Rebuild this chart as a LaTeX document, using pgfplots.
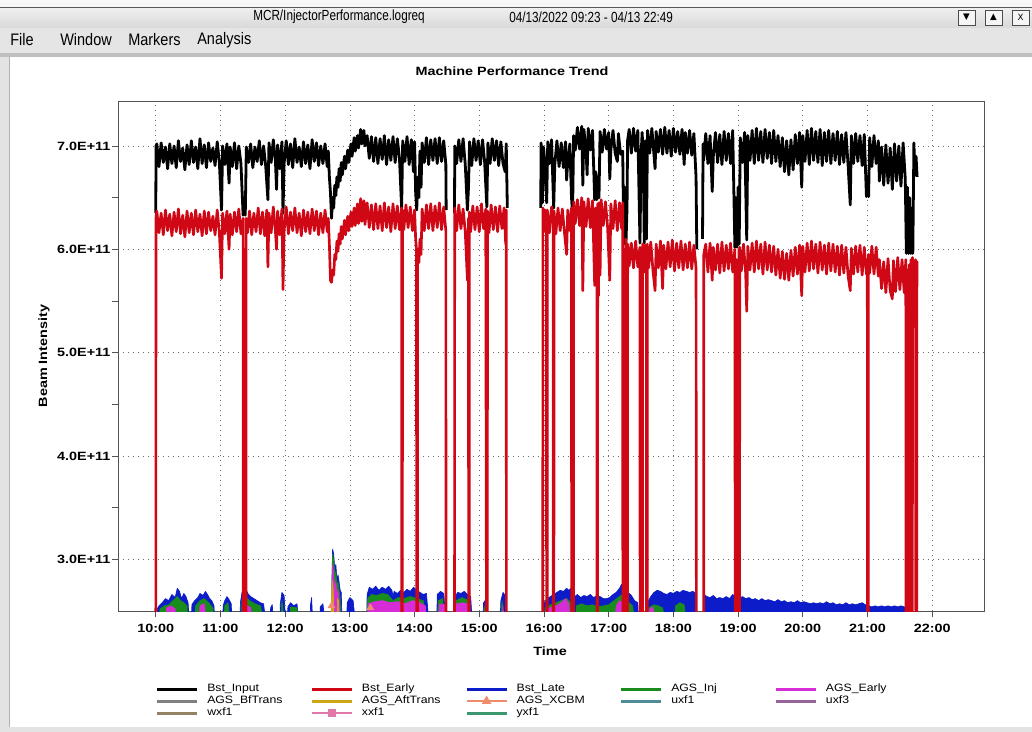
\documentclass[border=0pt]{standalone}
\usepackage{fontspec}
\setmainfont{Liberation Sans}
\newfontfamily\tickfont[FakeStretch=1.2]{Liberation Sans}
\newfontfamily\legfont[FakeStretch=1.15]{Liberation Sans}
\newfontfamily\condfont[FakeStretch=0.8]{Liberation Sans}
\newfontfamily\menufont[FakeStretch=0.87]{Liberation Sans}
\newfontfamily\symfont{DejaVu Sans}
\usepackage{pgfplots}
\pgfplotsset{compat=1.18}
\definecolor{cRed}{RGB}{208,8,22}
\definecolor{cBlue}{RGB}{12,28,200}
\definecolor{cGreen}{RGB}{25,140,30}
\definecolor{cMag}{RGB}{215,45,215}
\definecolor{cGold}{RGB}{205,165,25}
\definecolor{cSalmon}{RGB}{240,140,110}
\definecolor{cGray}{RGB}{128,128,128}
\definecolor{cTeal}{RGB}{80,140,150}
\definecolor{cPurp}{RGB}{150,100,150}
\definecolor{cTan}{RGB}{150,130,100}
\definecolor{cPink}{RGB}{225,120,170}
\definecolor{cSea}{RGB}{60,150,110}
\pgfplotsset{legend image code/.code={\draw[mark repeat=2,mark phase=2,#1] plot coordinates {(0pt,0pt) (15pt,0pt) (30pt,0pt)};}}
\begin{document}
\begin{tikzpicture}
\path[use as bounding box] (0,0) rectangle (774pt,-549pt);
\begin{scope}[x=0.75pt,y=-0.75pt]
\fill[gray!22] (0,0) rectangle (1032,732);
\fill[gray!6] (0,0) rectangle (1032,7);
\shade[top color=gray!12, bottom color=gray!30] (0,7) rectangle (1032,28);
\draw[gray!70!black, line width=0.6pt] (0,7.5) -- (1032,7.5);
\fill[gray!20] (0,28) rectangle (1032,53);
\fill[gray!50] (0,53) rectangle (1032,57);
\fill[white] (9,57) rectangle (1032,727);
\draw[gray!60] (9,57) -- (9,727);
\node[anchor=west, inner sep=0pt] at (253,17) {\condfont\fontsize{11}{13}\selectfont MCR/InjectorPerformance.logreq};
\node[anchor=west, inner sep=0pt] at (509,17) {\condfont\fontsize{11}{13}\selectfont 04/13/2022 09:23 - 04/13 22:49};
\foreach \bx/\g in {958/\char"25BC,985/\char"25B2,1012/X}{
  \draw[gray!60!black, fill=gray!8, line width=0.5pt] (\bx,10) rectangle (\bx+17,25);
  \node[inner sep=0pt] at (\bx+8.5,17.5) {\symfont\fontsize{6.5}{7}\selectfont \g};
}
\node[anchor=west, inner sep=0pt] at (10,40) {\menufont\fontsize{12.5}{14}\selectfont File};
\node[anchor=west, inner sep=0pt] at (60,40) {\menufont\fontsize{12.5}{14}\selectfont Window};
\node[anchor=west, inner sep=0pt] at (128,40) {\menufont\fontsize{12.5}{14}\selectfont Markers};
\node[anchor=west, inner sep=0pt] at (197,40) {\menufont\fontsize{12.5}{14}\selectfont Analysis};
\node[inner sep=0pt] at (512,71) {\tickfont\bfseries\fontsize{9}{11}\selectfont Machine Performance Trend};
\end{scope}
\begin{axis}[
 at={(88.5pt,-458.25pt)}, anchor=south west,
 width=649.5pt, height=382.5pt, scale only axis,
 xmin=-35, xmax=768, ymin=2.5, ymax=7.435,
 xtick={0,60,...,720},
 xticklabels={10:00,11:00,12:00,13:00,14:00,15:00,16:00,17:00,18:00,19:00,20:00,21:00,22:00},
 ytick={3,4,5,6,7},
 yticklabels={3.0E+11,4.0E+11,5.0E+11,6.0E+11,7.0E+11},
 minor ytick={3.5,4.5,5.5,6.5},
 tick align=outside, tick pos=left,
 major tick length=4.5pt, minor tick length=4.5pt,
 xmajorgrids, ymajorgrids,
 grid style={gray!85!black, dash pattern=on 0.75pt off 3pt, line width=0.5pt},
 axis line style={gray!65!black, line width=0.6pt},
 tick style={gray!65!black, line width=0.6pt},
 ticklabel style={font=\tickfont\bfseries\fontsize{9}{11}\selectfont, inner sep=1pt},
 xticklabel style={yshift=-4pt},
 xlabel={Time}, ylabel={Beam Intensity},
 label style={font=\tickfont\bfseries\fontsize{9}{11}\selectfont},
 xlabel style={at={(axis description cs:0.499,-0.078)}, anchor=center},
 ylabel style={at={(axis description cs:-0.0855,0.5)}, anchor=center},
 unbounded coords=jump,
 legend columns=5,
 legend cell align=left,
 legend style={at={(0.0435,-0.141)}, anchor=north west, draw=none, fill=none, inner sep=0pt,
   font=\legfont\fontsize{8}{9.5}\selectfont,
   nodes={inner sep=0pt, text height=6.5pt, text depth=2.5pt},
   /tikz/every odd column/.append style={column sep=6.5pt}},
]
\addlegendimage{black, line width=2pt}\addlegendentry{\makebox[77.5pt][l]{Bst\_Input}}
\addlegendimage{cRed, line width=2pt}\addlegendentry{\makebox[77.5pt][l]{Bst\_Early}}
\addlegendimage{cBlue, line width=2pt}\addlegendentry{\makebox[77.5pt][l]{Bst\_Late}}
\addlegendimage{cGreen, line width=2pt}\addlegendentry{\makebox[77.5pt][l]{AGS\_Inj}}
\addlegendimage{cMag, line width=2pt}\addlegendentry{\makebox[77.5pt][l]{AGS\_Early}}
\addlegendimage{cGray, line width=2pt}\addlegendentry{\makebox[77.5pt][l]{AGS\_BfTrans}}
\addlegendimage{cGold, line width=2pt}\addlegendentry{\makebox[77.5pt][l]{AGS\_AftTrans}}
\addlegendimage{cSalmon, line width=1.2pt, mark=triangle*, mark size=3pt, mark options={solid, fill=cSalmon}}\addlegendentry{\makebox[77.5pt][l]{AGS\_XCBM}}
\addlegendimage{cTeal, line width=2pt}\addlegendentry{\makebox[77.5pt][l]{uxf1}}
\addlegendimage{cPurp, line width=2pt}\addlegendentry{\makebox[77.5pt][l]{uxf3}}
\addlegendimage{cTan, line width=2pt}\addlegendentry{\makebox[77.5pt][l]{wxf1}}
\addlegendimage{cPink, line width=1.2pt, mark=square*, mark size=2.2pt, mark options={solid, fill=cPink}}\addlegendentry{\makebox[77.5pt][l]{xxf1}}
\addlegendimage{cSea, line width=2pt}\addlegendentry{\makebox[77.5pt][l]{yxf1}}

% Bst_Late (blue)
\addplot[forget plot, draw=cBlue, fill=cBlue, line width=0.5pt, line join=round] coordinates {
(0,2.3)(1,2.3)(1.5,2.52)(3,2.55)(6,2.58)(9,2.62)(12,2.60)(15,2.66)(18,2.63)(20,2.72)(22,2.69)(24,2.62)(26,2.67)(28,2.64)(30,2.58)(31.5,2.3)
(33,2.3)(33.5,2.56)(36,2.60)(39,2.63)(41,2.67)(44,2.65)(46,2.69)(48,2.66)(50,2.62)(52,2.60)(54,2.55)(55,2.3)
(62,2.3)(62.5,2.55)(64,2.60)(66,2.64)(68,2.61)(70,2.57)(71,2.3)
(78,2.3)(78.5,2.58)(80,2.68)(82,2.72)(84,2.70)(86,2.66)(88,2.64)(91,2.62)(94,2.60)(97,2.58)(100,2.57)(103,2.3)
(106,2.3)(106.5,2.53)(108,2.56)(110,2.3)
(115,2.3)(115.5,2.57)(117,2.68)(119,2.65)(121,2.3)
(122,2.3)(122.5,2.54)(125,2.58)(128,2.55)(131,2.57)(133,2.3)
(143,2.3)(143.5,2.56)(144.5,2.63)(146,2.3)
(152,2.3)(152.5,2.54)(155,2.57)(158,2.3)
(163,2.3)(163.5,2.85)(164,3.10)(165,3.05)(166,2.90)(167,2.95)(168,2.80)(169,2.85)(170,2.78)(171,2.70)(172,2.68)(173,2.3)
(177,2.3)(177.5,2.58)(180,2.63)(183,2.60)(186,2.3)
(195.5,2.3)(196,2.66)(198,2.73)(201,2.71)(204,2.74)(207,2.70)(210,2.73)(213,2.71)(216,2.74)(219,2.70)(220,2.64)(221,2.69)(224,2.67)(227,2.70)(230,2.68)(233,2.71)(236,2.69)(239,2.73)(242,2.70)(245,2.68)(248,2.66)(251,2.67)(254,2.3)
(260.5,2.3)(261,2.66)(264,2.69)(267,2.67)(270,2.3)
(277,2.3)(277.5,2.64)(280,2.68)(283,2.67)(286,2.69)(289,2.66)(292,2.64)(294,2.3)
(303,2.3)(304,2.58)(306,2.61)(308,2.3)
(319,2.3)(320,2.60)(322,2.68)(324,2.65)(325,2.3)
(359,2.3)(360,2.58)(363,2.62)(366,2.64)(369,2.66)(372,2.68)(375,2.70)(378,2.69)(381,2.72)(383,2.70)(385,2.72)(386,2.3)
(388,2.3)(388.5,2.64)(391,2.66)(394,2.63)(397,2.65)(400,2.64)(403,2.66)(406,2.63)(409,2.65)(412,2.64)(415,2.62)(418,2.62)(421,2.63)(424,2.66)(427,2.68)(430,2.72)(432,2.76)(434,2.74)(436,2.71)(438,2.68)(441,2.65)(444,2.60)(447,2.58)(448,2.3)
(455,2.3)(456,2.58)(459,2.64)(462,2.68)(465,2.70)(468,2.69)(471,2.67)(474,2.66)(477,2.68)(480,2.67)(483,2.69)(486,2.68)(489,2.70)(492,2.69)(495,2.68)(498,2.69)(501,2.67)(502,2.3)
(508,2.3)(508.5,2.66)(511,2.64)(514,2.63)(517,2.65)(520,2.62)(523,2.63)(526,2.62)(529,2.64)(532,2.62)(535,2.66)(538,2.63)(541,2.62)(544,2.64)(547,2.62)(550,2.63)(553,2.61)(556,2.62)(559,2.60)(562,2.62)(565,2.60)(568,2.61)(571,2.60)(574,2.59)(577,2.61)(580,2.59)(583,2.60)(586,2.58)(589,2.59)(592,2.58)(595,2.60)(598,2.58)(601,2.59)(604,2.58)(607,2.57)(610,2.58)(613,2.57)(616,2.58)(619,2.57)(622,2.59)(625,2.57)(628,2.58)(631,2.56)(634,2.57)(637,2.56)(640,2.58)(643,2.56)(646,2.57)(649,2.56)(652,2.57)(655,2.58)(658,2.56)(661,2.55)(664,2.54)(667,2.55)(670,2.54)(673,2.55)(676,2.54)(679,2.55)(682,2.54)(685,2.55)(688,2.54)(691,2.55)(694,2.54)(697,2.53)(697.5,2.3)
};
% AGS_Inj (green)
\addplot[forget plot, draw=cGreen, fill=cGreen, line width=0.5pt, line join=round] coordinates {
(3,2.3)(4,2.52)(8,2.55)(12,2.56)(16,2.60)(20,2.64)(23,2.60)(26,2.58)(29,2.55)(30,2.3)
(36,2.3)(37,2.55)(41,2.60)(45,2.62)(49,2.58)(53,2.53)(54,2.3)
(63,2.3)(64,2.55)(67,2.58)(70,2.3)
(79,2.3)(80,2.60)(83,2.64)(87,2.60)(92,2.57)(97,2.55)(102,2.3)
(116,2.3)(117,2.60)(120,2.3)(124,2.3)(125,2.54)(131,2.53)(132,2.3)
(163,2.3)(163.5,2.80)(164,3.05)(165,2.98)(166,2.85)(167,2.88)(168,2.74)(169,2.78)(170,2.70)(171,2.62)(172,2.3)
(196,2.3)(196.5,2.62)(200,2.66)(205,2.65)(210,2.67)(215,2.66)(220,2.60)(225,2.63)(230,2.62)(236,2.64)(242,2.62)(248,2.60)(253,2.3)
(261,2.3)(262,2.60)(266,2.62)(269,2.3)(278,2.3)(278.5,2.60)(284,2.63)(290,2.60)(293,2.3)
(304,2.3)(305,2.55)(307,2.3)(320,2.3)(321,2.60)(324,2.3)
(360,2.3)(361,2.53)(366,2.56)(371,2.58)(376,2.60)(381,2.62)(385,2.58)(386,2.3)
(389,2.3)(390,2.55)(395,2.57)(400,2.55)(405,2.56)(410,2.54)(415,2.55)(420,2.56)(425,2.60)(430,2.64)(433,2.66)(437,2.60)(442,2.55)(446,2.3)
(456,2.3)(457,2.53)(462,2.56)(466,2.55)(470,2.53)(474,2.3)
(480,2.3)(482,2.55)(486,2.58)(490,2.56)(493,2.3)
};
% AGS_Early (magenta)
\addplot[forget plot, draw=cMag, fill=cMag, line width=0.5pt, line join=round] coordinates {
(9,2.3)(10,2.53)(14,2.55)(18,2.52)(19,2.3)(40,2.3)(41,2.55)(45,2.57)(48,2.3)
(80,2.3)(81,2.58)(84,2.56)(88,2.53)(90,2.3)
(163,2.3)(163.5,2.70)(164,2.95)(165,2.85)(166,2.72)(167,2.78)(168,2.66)(169,2.70)(170,2.60)(171,2.3)
(196,2.3)(197,2.57)(203,2.59)(210,2.60)(217,2.58)(224,2.59)(231,2.57)(238,2.60)(245,2.58)(250,2.55)(252,2.3)
(262,2.3)(263,2.57)(268,2.56)(269,2.3)(278,2.3)(279,2.57)(285,2.58)(291,2.56)(293,2.3)
(321,2.3)(322,2.55)(323,2.3)
(362,2.3)(363,2.52)(368,2.54)(373,2.56)(377,2.59)(380,2.62)(383,2.57)(385,2.3)
(425,2.3)(427,2.55)(430,2.60)(433,2.58)(436,2.55)(438,2.3)
(457,2.3)(458,2.52)(461,2.54)(464,2.3)
};
% AGS_AftTrans (gold)
\addplot[forget plot, draw=cGold, fill=cGold, line width=0.5pt, line join=round] coordinates {
(162,2.3)(163,2.60)(163.5,2.80)(164.5,2.72)(165,2.55)(166,2.3)
(168,2.3)(168.5,2.62)(169.5,2.60)(170,2.3)
};
% AGS_XCBM
\addplot[forget plot, only marks, mark=triangle*, mark size=3pt, color=cSalmon] coordinates {(163,2.55)(199,2.53)};
% Bst_Input (black)
\addplot[forget plot, black, line width=2.1pt, line join=round] coordinates {
(0,6.35)(0.3,7.00)(1,7.02)(3,6.80)(5,7.03)(7,6.84)(9,6.99)(11,6.78)(13,7.02)(15,6.83)(17,7.00)(19,6.79)(21,7.05)(23,6.85)(25,6.98)(27,6.77)(29,7.01)(31,6.82)(33,7.05)(35,6.84)(37,6.99)(39,6.78)(41,7.07)(43,6.83)(45,7.01)(47,6.79)(49,7.03)(51,6.85)(53,6.98)(55,6.81)(57,7.04)(59,6.84)(61,6.38)(62,7.00)(64,6.82)(66,7.02)(68,6.64)(69,6.99)(71,6.80)(73,7.03)(75,6.78)(77,7.00)(79,6.83)(81,6.33)(82,6.50)(83,6.33)(84,6.99)(86,6.84)(88,7.02)(90,6.79)(92,6.99)(94,6.85)(96,7.05)(98,6.82)(100,7.00)(102,6.80)(104,6.48)(105,7.03)(107,6.84)(109,7.06)(111,6.85)(112,6.58)(113,7.01)(115,6.78)(117,7.04)(118,6.35)(119,6.83)(121,7.05)(123,6.82)(125,7.02)(127,6.79)(129,7.07)(131,6.84)(133,6.99)(135,6.80)(137,7.04)(139,6.83)(141,7.01)(143,6.78)(145,7.06)(147,6.85)(149,7.03)(151,6.81)(153,7.00)(155,6.83)(157,7.02)(159,6.80)
(160,6.95)(161,6.70)(162,6.55)(163,6.30)(164,6.50)(165,6.40)(166,6.62)(167,6.52)(168,6.70)(169,6.60)(170,6.78)(171,6.66)(172,6.84)(173,6.72)(175,6.90)(176,6.78)(178,6.96)(179,6.84)(181,7.02)(182,6.90)(184,7.08)(185,6.95)(187,7.10)(188,6.98)(190,7.16)(191,7.02)(193,7.15)(194,7.00)
(196,7.10)(198,6.88)(200,7.09)(202,6.85)(204,7.08)(206,6.83)(208,7.07)(210,6.87)(212,7.10)(214,6.82)(216,7.06)(218,6.86)(220,7.09)(222,6.84)(224,7.07)(226,6.88)(228,6.40)(229,7.05)(231,6.85)(233,7.09)(235,6.82)(237,7.06)(239,6.75)(240,7.04)(241,6.55)(242,6.38)(243,6.70)(244,6.50)(245,6.95)(246,6.60)(247,7.03)(249,6.84)(251,7.08)(253,6.82)(255,7.06)(257,6.86)(259,7.07)(261,6.83)(263,7.08)(265,6.85)(267,7.05)(269,6.82)(269.3,6.38)(269.6,nan)
(277,6.35)(277.3,7.00)(279,6.83)(281,7.06)(283,6.85)(285,7.07)(287,6.82)(289,6.38)(290,6.60)(291,7.04)(293,6.81)(295,7.07)(297,6.86)(299,7.05)(301,6.82)(303,7.06)(305,6.84)(307,6.41)(308,7.03)(310,6.83)(312,7.07)(314,6.86)(316,7.05)(318,6.81)(320,7.04)(322,6.83)(324,6.75)(325,7.02)(326,6.40)(326.3,nan)
(357,6.40)(357.3,7.03)(358.5,6.45)(359.5,6.99)(361,6.82)(362.5,6.45)(363.5,7.04)(365,6.83)(367,7.06)(369,6.40)(370,6.82)(372,7.05)(374,6.80)(376,7.03)(378,6.79)(380,7.04)(381,6.67)(382,6.85)(384,7.02)(385.5,6.50)(386.5,6.35)(387.5,7.10)
(389,6.96)(391,7.18)(393,6.97)(395,7.19)(396,6.62)(397,7.16)(399,6.95)(400,6.72)(401,7.17)(403,6.96)(405,7.15)(407,6.48)(408,6.75)(409,6.48)(410,6.70)(411,6.50)(412,7.14)(414,6.94)(416,7.16)(418,6.97)(420,7.13)(421,6.68)(422,6.96)(424,7.15)(426,6.93)(428,6.85)(429,7.12)(431,6.92)(433,6.95)(434,6.05)(435,6.60)(436,6.05)(437,6.40)(437.5,7.05)
(439,7.16)(441,6.93)(443,7.17)(445,6.95)(447,7.15)(449,6.06)(450,6.90)(451,7.13)(452,6.92)(453,6.06)(454,7.05)(455,6.10)(456,7.15)(458,6.93)(460,7.17)(462,6.91)(463,6.78)(464,7.14)(466,6.94)(468,7.16)(470,6.92)(472,7.18)(474,6.93)(476,7.15)(478,6.90)(480,7.17)(482,6.94)(484,7.14)(486,6.92)(488,7.16)(490,6.82)(491,7.13)(493,6.93)(495,7.15)(497,6.91)(499,7.12)(501,6.70)(501.7,6.00)(502,nan)
(507,6.10)(507.5,7.02)(508,6.86)(510,7.12)(512,6.83)(514,7.10)(516,6.56)(517,6.90)(519,7.13)(521,6.84)(523,7.11)(525,6.82)(527,7.14)(529,6.86)(531,7.12)(533,6.83)(535,7.15)(537,6.02)(538,6.50)(539,6.02)(540,6.60)(541,6.05)(542,7.08)(544,6.84)(546,7.13)(548,6.09)(549,7.10)(551,6.86)(553,7.15)(555,6.83)(557,7.17)(559,6.86)(561,7.14)(563,6.84)(565,7.16)(567,6.88)(569,7.13)(571,6.83)(573,7.15)(575,6.85)(577,7.10)(579,6.80)(581,7.08)(583,6.75)(585,7.05)(587,6.72)(589,7.06)(591,6.77)(593,7.11)(595,6.83)(597,7.13)(599,6.60)(600,7.10)(602,6.85)(604,7.15)(606,6.82)(608,7.17)(610,6.86)(612,7.14)(614,6.84)(616,7.16)(618,6.81)(620,7.13)(622,6.85)(624,7.15)(626,6.83)(628,7.12)(630,6.86)(632,7.14)(634,6.82)(636,7.11)(638,6.84)(640,7.13)(642,6.81)(644,6.43)(645,7.10)(647,6.83)(649,7.12)(651,6.85)(653,7.10)(655,6.81)(657,7.11)(659,6.51)(660,6.70)(661,6.51)(662,7.08)(664,6.80)(666,7.10)(668,6.83)(670,7.05)
(671,6.66)(673,6.99)(675,6.62)(677,7.01)(679,6.64)(681,6.98)(683,6.58)(685,7.02)(687,6.66)(689,7.00)(691,6.61)(693,7.03)(695,6.68)(696,5.96)(697,6.60)(698,5.96)(699,6.50)(700,5.96)(701,6.40)(702,5.96)(703,7.03)(704,6.72)(705,6.90)(706,6.70)
};
% Bst_Early (red)
\addplot[forget plot, color=cRed, line width=2pt, line join=round] coordinates {
(0,0)(0.2,6.30)(1,6.37)(3,6.16)(5,6.35)(7,6.14)(9,6.38)(11,6.18)(13,6.34)(15,6.13)(17,6.36)(19,6.17)(21,6.39)(23,6.15)(25,6.33)(27,6.12)(29,6.37)(31,6.16)(33,6.35)(35,6.14)(37,6.38)(39,6.17)(41,6.34)(43,6.13)(45,6.37)(47,6.15)(49,6.36)(51,6.18)(53,6.32)(55,6.14)(57,6.38)(59,6.16)(61,5.72)(62,6.35)(64,6.15)(66,6.37)(68,6.00)(69,6.34)(71,6.14)(73,6.36)(75,6.17)(77,6.39)(79,6.15)(81,6.30)(81.2,0)(82.2,0)(82.4,6.0)(82.6,0)(83.6,0)(83.8,6.30)(85,6.16)(87,6.37)(89,6.14)(91,6.35)(93,6.17)(95,6.40)(97,6.15)(99,6.36)(101,6.13)(103,6.38)(104,5.83)(105,6.35)(107,6.16)(109,6.41)(111,6.17)(112,6.00)(113,6.37)(115,6.14)(117,6.39)(118,5.61)(119,6.17)(121,6.41)(123,6.15)(125,6.36)(127,6.18)(129,6.40)(131,6.16)(133,6.35)(135,6.13)(137,6.38)(139,6.17)(141,6.36)(143,6.15)(145,6.39)(147,6.18)(149,6.37)(151,6.14)(153,6.35)(155,6.16)(157,6.38)(159,6.17)
(160,6.30)(161,6.05)(162,5.70)(163,5.68)(164,5.80)(165,5.75)(166,5.95)(167,5.90)(168,6.08)(169,5.98)(170,6.15)(171,6.05)(172,6.22)(173,6.10)(175,6.28)(176,6.14)(178,6.32)(179,6.18)(181,6.36)(182,6.22)(184,6.40)(185,6.23)(187,6.44)(188,6.25)(190,6.49)(191,6.27)(193,6.47)(194,6.24)
(196,6.45)(198,6.21)(200,6.43)(202,6.19)(204,6.44)(206,6.20)(208,6.42)(210,6.18)(212,6.45)(214,6.21)(216,6.41)(218,6.17)(220,6.44)(222,6.20)(224,6.42)(226,6.19)(228,6.40)(228.2,0)(228.6,0)(228.8,6.38)(230,6.19)(232,6.43)(234,6.21)(236,6.41)(238,6.18)(240,6.38)(241,6.10)(241.8,6.0)(242,0)(242.6,0)(242.8,6.00)(244,5.87)(245,6.10)(246,5.95)(247,6.39)(249,6.18)(251,6.43)(253,6.20)(255,6.44)(257,6.18)(259,6.42)(261,6.21)(263,6.45)(265,6.19)(267,6.41)(269,6.18)(269.2,0)
(277,0)(277.2,6.40)(279,6.18)(281,6.43)(283,6.20)(285,6.39)(287,6.17)(289,5.70)(290,6.30)(290.2,0)(290.6,0)(290.8,6.36)(292,6.17)(294,6.42)(296,6.19)(298,6.41)(300,6.17)(302,6.44)(304,6.20)(306,6.39)(307,0)(307.4,0)(307.6,6.37)(309,6.16)(311,6.43)(313,6.19)(315,6.41)(317,6.17)(319,6.42)(321,6.20)(323,6.40)(324.5,6.05)(325,6.38)(325.2,0)
(358.8,0)(359,6.40)(360,6.17)(361,6.38)(362.3,6.30)(362.5,0)(362.9,0)(363.1,6.38)(365,6.16)(367,6.41)(368.5,6.30)(368.7,0)(369.1,0)(369.3,6.37)(371,6.15)(373,6.40)(375,6.18)(377,6.39)(379,6.16)(381,5.95)(382,6.38)(384,6.18)(385.5,6.40)(385.7,0)(386.3,0)(386.5,6.0)(386.7,0)(387.3,0)(387.5,6.46)
(389,6.25)(391,6.48)(393,6.23)(395,6.50)(396,5.60)(397,6.46)(399,6.22)(401,6.49)(403,6.21)(405,6.47)(407,5.65)(408,6.40)(409,6.30)(409.2,0)(409.6,0)(409.8,6.44)(410.5,5.55)(411,6.45)(412,5.75)(413,6.48)(415,6.23)(417,6.46)(419,6.21)(421,5.70)(422,6.44)(424,6.20)(426,6.47)(428,6.18)(430,6.45)(432,6.20)(433,6.45)(433.2,0)(434,0)(434.3,6.0)(434.6,0)(435.6,0)(435.9,6.1)(436.2,0)(437.3,0)(437.6,6.05)
(439,5.84)(441,6.06)(443,5.82)(445,6.08)(447,5.83)(449,6.02)(449.2,0)(449.8,0)(450,6.0)(450.3,0)(451.3,0)(451.5,6.05)(452,5.82)(453,5.78)(454,6.04)(455,6.0)(455.2,0)(455.6,0)(455.8,6.05)(457,5.82)(459,6.07)(461,5.80)(463,5.60)(464,6.05)(466,5.82)(468,6.08)(470,5.62)(471,6.04)(473,5.81)(475,6.07)(477,5.83)(479,6.09)(481,5.79)(483,6.06)(485,5.82)(487,6.08)(489,5.80)(491,6.05)(493,5.82)(495,6.07)(497,5.81)(499,6.04)(501,5.82)(501.5,0)
(508,0)(508.2,5.95)(510,6.05)(512,5.78)(514,6.06)(516,5.70)(517,6.02)(519,5.80)(521,6.05)(523,5.77)(525,6.07)(527,5.79)(529,6.04)(531,5.81)(533,6.06)(535,5.78)(537,6.0)(537.5,0)(538.5,0)(538.7,5.9)(539,0)(540.5,0)(540.8,6.0)(541,0)(541.3,0)(541.5,6.02)(543,5.79)(545,6.05)(547,5.77)(548,5.40)(549,6.03)(551,5.80)(553,6.06)(555,5.78)(557,6.08)(559,5.81)(561,6.05)(563,5.76)(565,6.07)(567,5.80)(569,6.04)(571,5.78)(573,6.03)(575,5.75)(577,6.00)(579,5.72)(581,5.98)(583,5.71)(585,5.96)(587,5.70)(589,5.99)(591,5.74)(593,6.02)(595,5.76)(597,6.04)(599,5.55)(600,6.03)(602,5.78)(604,6.06)(606,5.79)(608,6.08)(610,5.81)(612,6.05)(614,5.77)(616,6.07)(618,5.80)(620,6.04)(622,5.76)(624,6.06)(626,5.79)(628,6.05)(630,5.78)(632,6.03)(634,5.75)(636,6.04)(638,5.77)(640,6.02)(642,5.74)(644,5.60)(645,6.01)(647,5.76)(649,6.03)(651,5.78)(653,6.04)(655,5.75)(657,6.02)(659,5.76)(659.8,5.9)(660,0)(660.6,0)(660.8,5.95)(662,5.77)(664,6.03)(666,5.76)(668,6.02)(670,5.74)
(671,5.90)(673,5.62)(675,5.88)(677,5.58)(679,5.91)(681,5.60)(683,5.52)(684,5.89)(686,5.59)(688,5.92)(690,5.61)(692,5.90)(694,5.58)(695.5,5.90)(695.7,0)(696.7,0)(697,5.8)(697.2,0)(698.5,0)(698.7,5.85)(699,0)(700,0)(700.3,5.9)(700.5,0)(701.5,0)(701.7,5.92)(703,5.62)(704.5,5.90)(705,0)(705.6,0)(705.8,5.88)(706,5.70)
};
\end{axis}
\end{tikzpicture}
\end{document}
